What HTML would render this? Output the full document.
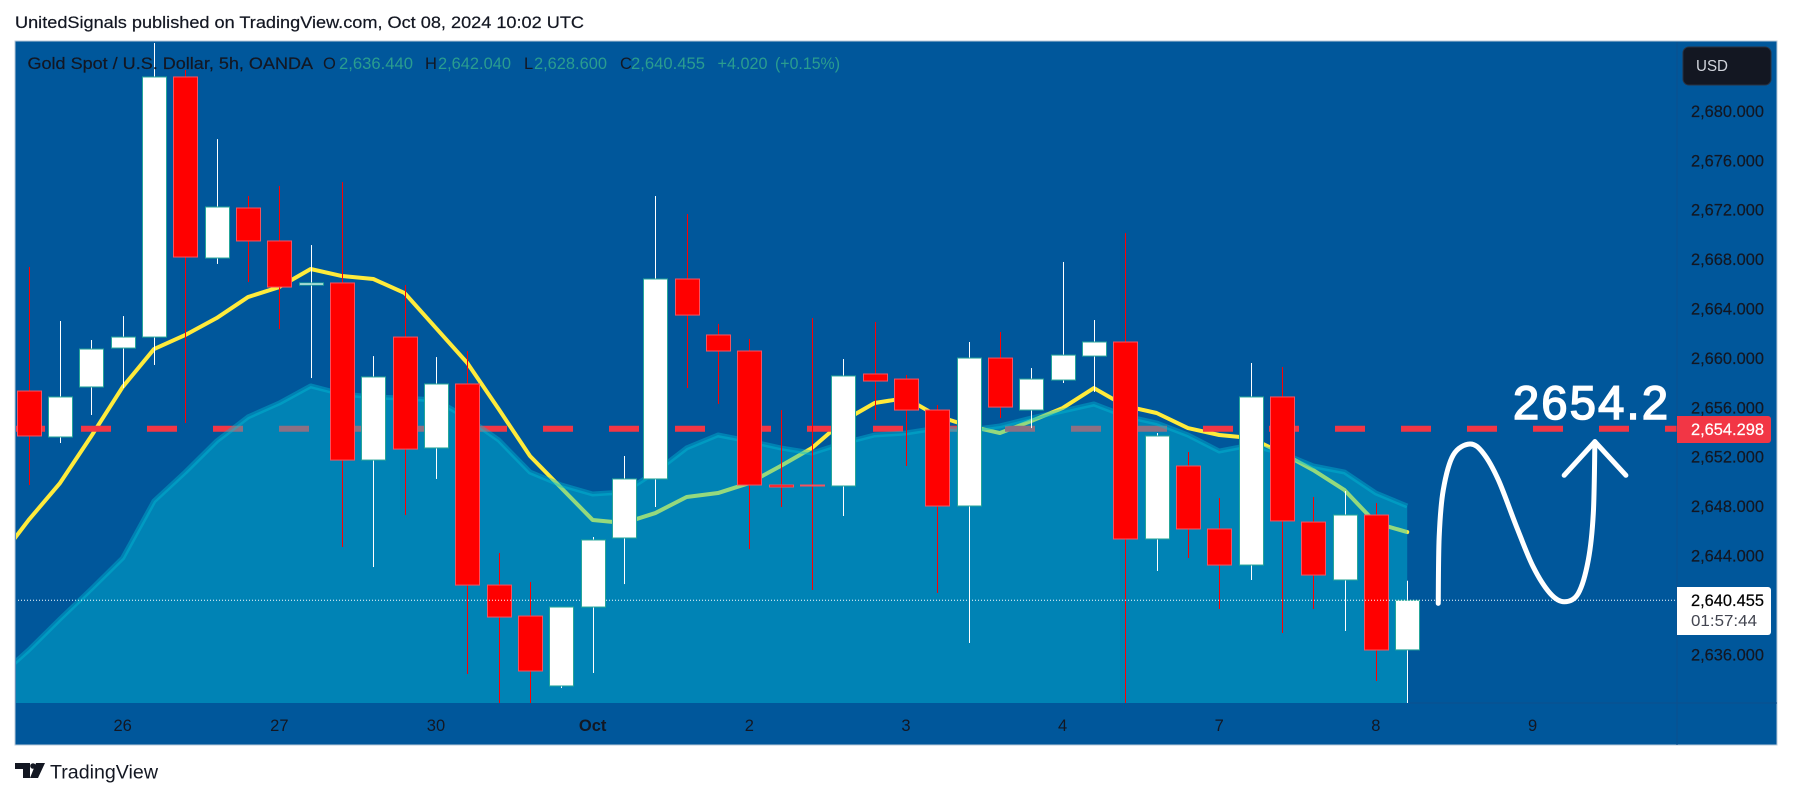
<!DOCTYPE html>
<html lang="en">
<head>
<meta charset="utf-8">
<title>Gold Spot / U.S. Dollar chart</title>
<style>
html,body{margin:0;padding:0;background:#fff;}
body{width:1793px;height:798px;overflow:hidden;}
svg{display:block;font-family:"Liberation Sans",sans-serif;}
</style>
</head>
<body>
<svg id="chart" xmlns="http://www.w3.org/2000/svg" width="1793" height="798" viewBox="0 0 1793 798">
  <defs>
    <clipPath id="plot-clip"><rect x="16" y="42" width="1661" height="661"/></clipPath>
  </defs>
  <rect x="0" y="0" width="1793" height="798" fill="#ffffff"/>
  <text x="15" y="28" font-size="16.5" fill="#131722" stroke="#131722" stroke-width="0.2" textLength="569" lengthAdjust="spacingAndGlyphs">UnitedSignals published on TradingView.com, Oct 08, 2024 10:02 UTC</text>
  <rect x="15" y="41" width="1762" height="704" fill="#00579b" stroke="#b8c8da" stroke-width="1"/>
  <g id="plot" clip-path="url(#plot-clip)"></g>
  <line x1="1677" y1="42" x2="1677" y2="745" stroke="#0d4f8c" stroke-width="1"/>
  <line x1="1410" y1="703" x2="1777" y2="703" stroke="#0d4f8c" stroke-width="1"/>
  <g id="price-axis"></g>
  <g id="time-axis"></g>
  <g font-size="16.5">
    <text x="27.5" y="69" fill="#131722" stroke="#131722" stroke-width="0.2" textLength="285.5" lengthAdjust="spacingAndGlyphs">Gold Spot / U.S. Dollar, 5h, OANDA</text>
    <text x="323" y="69" fill="#131722">O</text>
    <text x="339" y="69" fill="#2a9d8f" textLength="74" lengthAdjust="spacingAndGlyphs">2,636.440</text>
    <text x="425" y="69" fill="#131722">H</text>
    <text x="438" y="69" fill="#2a9d8f" textLength="73" lengthAdjust="spacingAndGlyphs">2,642.040</text>
    <text x="524" y="69" fill="#131722">L</text>
    <text x="534" y="69" fill="#2a9d8f" textLength="73" lengthAdjust="spacingAndGlyphs">2,628.600</text>
    <text x="620" y="69" fill="#131722">C</text>
    <text x="631" y="69" fill="#2a9d8f" textLength="74" lengthAdjust="spacingAndGlyphs">2,640.455</text>
    <text x="717.5" y="69" fill="#2a9d8f" textLength="50" lengthAdjust="spacingAndGlyphs">+4.020</text>
    <text x="775" y="69" fill="#2a9d8f" textLength="65" lengthAdjust="spacingAndGlyphs">(+0.15%)</text>
  </g>
  <g>
    <rect x="1683" y="47" width="88" height="38" rx="6" fill="#131722" stroke="#2a3140" stroke-width="1"/>
    <text x="1696" y="71" font-size="16" fill="#d1d4dc" textLength="32" lengthAdjust="spacingAndGlyphs">USD</text>
  </g>
  <g>
    <path d="M1677 416H1768a3 3 0 0 1 3 3V440a3 3 0 0 1-3 3H1677Z" fill="#f23645"/>
    <text x="1691" y="435" font-size="16.500" fill="#ffffff" stroke="#ffffff" stroke-width="0.2" textLength="73" lengthAdjust="spacingAndGlyphs">2,654.298</text>
  </g>
  <g>
    <path d="M1677 587H1768a3 3 0 0 1 3 3V632a3 3 0 0 1-3 3H1677Z" fill="#ffffff"/>
    <text x="1691" y="606" font-size="16.500" fill="#000000" stroke="#000000" stroke-width="0.2" textLength="73" lengthAdjust="spacingAndGlyphs">2,640.455</text>
    <text x="1691" y="626" font-size="16" fill="#434651" textLength="66" lengthAdjust="spacingAndGlyphs">01:57:44</text>
  </g>
  <g>
    <path d="M15 763H30V778H23V769H15ZM36 763H45L38 778H30Z" fill="#131722"/>
    <circle cx="33" cy="766" r="2.800" fill="#131722"/>
    <text x="50" y="778.500" font-size="19" fill="#131722" textLength="108" lengthAdjust="spacingAndGlyphs">TradingView</text>
  </g>
</svg>
<script>
// Bar 0 in these arrays sits just off the left edge of the plot.
const opens  = [2650,2657.40,2653.68,2657.73,2660.88,2661.77,2682.83,2668.17,2672.22,2669.55,2665.98,2666.15,2651.81,2661.77,2652.79,2657.97,2641.69,2639.18,2633.52,2639.91,2645.50,2650.28,2666.47,2661.94,2660.64,2649.79,2649.79,2649.71,2658.78,2658.37,2655.86,2648.09,2660.07,2655.86,2658.29,2660.23,2661.37,2645.42,2651.33,2646.23,2643.31,2656.92,2646.79,2642.10,2647.36,2636.44];
const highs  = [2652,2667.44,2663.07,2661.53,2663.47,2685.58,2683.39,2677.80,2673.19,2674.00,2669.22,2674.32,2660.23,2665.98,2660.15,2660.64,2644.29,2641.94,2639.91,2645.58,2652.14,2673.19,2671.73,2662.83,2661.61,2655.86,2663.31,2659.99,2662.99,2658.70,2656.27,2661.37,2662.18,2659.26,2667.85,2663.15,2670.19,2654.00,2652.46,2648.74,2659.67,2659.35,2648.82,2649.30,2648.33,2642.04];
const lows   = [2648,2649.79,2653.19,2655.46,2657.64,2659.51,2654.81,2667.69,2666.23,2662.42,2658.45,2644.77,2643.15,2647.36,2650.28,2634.49,2631.00,2631.00,2633.35,2634.57,2641.77,2648.01,2657.64,2656.35,2644.61,2648.01,2641.29,2647.28,2655.05,2651.33,2641.05,2637.00,2655.21,2654.40,2658.05,2657.32,2631.00,2642.83,2643.88,2639.75,2642.10,2637.81,2639.75,2637.97,2633.92,2628.60];
const closes = [2649,2653.76,2656.92,2660.80,2661.77,2682.83,2668.25,2672.30,2669.55,2665.82,2666.15,2651.81,2658.54,2652.70,2657.97,2641.69,2639.10,2634.73,2639.91,2645.34,2650.28,2666.47,2663.55,2660.64,2649.79,2649.63,2649.75,2658.62,2658.21,2655.86,2648.09,2660.07,2656.10,2658.37,2660.31,2661.37,2645.42,2653.76,2646.23,2643.31,2656.92,2646.88,2642.50,2647.36,2636.43,2640.455];
const fastAverage = [2643.64,2646.96,2649.95,2653.76,2657.73,2660.80,2661.94,2663.31,2665.01,2665.82,2667.28,2666.71,2666.47,2665.33,2662.50,2659.67,2655.94,2652.14,2649.55,2646.96,2646.71,2647.52,2648.82,2649.14,2649.95,2651.33,2652.79,2654.97,2656.43,2656.83,2655.38,2654.57,2654.00,2654.97,2656.02,2657.64,2656.19,2655.62,2654.40,2653.84,2653.60,2652.38,2651.00,2649.38,2646.71,2645.98];
const areaSeries = [2634.16,2636.43,2638.94,2641.37,2643.88,2648.49,2650.84,2653.35,2655.30,2656.43,2657.81,2657.16,2656.92,2656.83,2656.67,2655.21,2653.44,2650.84,2649.79,2649.06,2649.22,2650.84,2652.79,2653.84,2653.35,2652.79,2652.38,2653.19,2653.84,2654.00,2654.40,2654.24,2654.57,2655.21,2655.78,2656.35,2655.38,2654.81,2653.84,2652.54,2653.03,2652.38,2651.33,2650.84,2649.14,2648.09];
const priceTicks = [2680,2676,2672,2668,2664,2660,2656,2652,2648,2644,2636];
const timeLabels = ['26','27','30','Oct','2','3','4','7','8','9'];
const timeLabelBars = [4,9,14,19,24,29,34,39,44,49];
const targetPrice = 2654.298;
const lastPrice = 2640.455;
const drawingBars   = [45.99,46.02,46.15,46.47,47.00,47.43,47.91,48.49,49.02,49.56,50.01,50.46,50.78,50.94,50.99];
const drawingPrices = [2640.21,2645.60,2649.38,2652.22,2653.11,2652.36,2650.20,2646.41,2643.17,2641.02,2640.34,2641.02,2643.72,2647.50,2653.30];
const arrowBars   = [50.01,50.99,51.98];
const arrowPrices = [2650.58,2653.30,2650.58];

const NS = 'http://www.w3.org/2000/svg';
const xScale = function (bar) { return 28.7 + 31.33 * (bar - 1); };
const yScale = function (price) { return 600.3 + (2640.455 - price) * 12.35; };
const fmt = function (n) { return n.toFixed(2); };

function make(tag, attrs, parent) {
  const node = document.createElementNS(NS, tag);
  for (const key in attrs) node.setAttribute(key, attrs[key]);
  parent.appendChild(node);
  return node;
}
function linePath(values) {
  return values.map(function (v, i) { return (i ? 'L' : 'M') + fmt(xScale(i)) + ' ' + fmt(yScale(v)); }).join('');
}
function smoothPath(bars, prices) {
  const pts = bars.map(function (b, i) { return [xScale(b), yScale(prices[i])]; });
  let d = 'M' + fmt(pts[0][0]) + ' ' + fmt(pts[0][1]);
  for (let i = 0; i < pts.length - 1; i++) {
    const p0 = pts[Math.max(i - 1, 0)], p1 = pts[i], p2 = pts[i + 1], p3 = pts[Math.min(i + 2, pts.length - 1)];
    d += 'C' + fmt(p1[0] + (p2[0] - p0[0]) / 6) + ' ' + fmt(p1[1] + (p2[1] - p0[1]) / 6) + ' ' +
         fmt(p2[0] - (p3[0] - p1[0]) / 6) + ' ' + fmt(p2[1] - (p3[1] - p1[1]) / 6) + ' ' +
         fmt(p2[0]) + ' ' + fmt(p2[1]);
  }
  return d;
}

const plot = document.getElementById('plot');
const priceAxis = document.getElementById('price-axis');
const timeAxis = document.getElementById('time-axis');

const fastLine = make('path', { d: linePath(fastAverage), fill: 'none', stroke: '#ffeb3b', 'stroke-width': 4, 'stroke-linejoin': 'round', 'stroke-linecap': 'round' }, plot);



const targetLine = make('line', { x1: 15, x2: 1677, y1: 428.7, y2: 428.7, stroke: '#f23645', 'stroke-width': 6, 'stroke-dasharray': '30 36' }, plot);



const lastBar = areaSeries.length - 1;
const areaFill = make('path', {
  d: linePath(areaSeries) + 'L' + fmt(xScale(lastBar)) + ' 703L' + fmt(xScale(0)) + ' 703Z',
  fill: '#00c0d9', 'fill-opacity': 0.42, stroke: 'none'
}, plot);



const areaLine = make('path', { d: linePath(areaSeries), fill: 'none', stroke: '#00bcd4', 'stroke-opacity': 0.42, 'stroke-width': 5, 'stroke-linejoin': 'round', 'stroke-linecap': 'butt' }, plot);



opens.forEach(function (open, i) {
  const close = closes[i];
  const up = close >= open;
  const cx = Math.round(xScale(i));
  const group = make('g', {}, plot);
  
  
  const wick = make('rect', {
    x: cx, y: fmt(yScale(highs[i])), width: 1,
    height: fmt(yScale(lows[i]) - yScale(highs[i])),
    fill: up ? '#ffffff' : '#ff0000'
  }, group);
  
  
  const top = yScale(Math.max(open, close));
  const bottom = yScale(Math.min(open, close));
  const body = make('rect', {
    x: cx - 11.5, y: fmt(top), width: 24, height: fmt(Math.max(bottom - top, 1)),
    fill: up ? '#ffffff' : '#ff0000',
    stroke: up ? '#26a69a' : '#f7525f', 'stroke-width': 1
  }, group);
  
  
});

const lastLine = make('line', { x1: 15, x2: 1677, y1: fmt(yScale(lastPrice)), y2: fmt(yScale(lastPrice)), stroke: '#ffffff', 'stroke-width': 1, 'stroke-dasharray': '1 2' }, plot);



const curve = make('path', { d: smoothPath(drawingBars, drawingPrices), fill: 'none', stroke: '#ffffff', 'stroke-width': 5, 'stroke-linecap': 'round', 'stroke-linejoin': 'round' }, plot);



const arrow = make('path', {
  d: arrowBars.map(function (b, i) { return (i ? 'L' : 'M') + fmt(xScale(b)) + ' ' + fmt(yScale(arrowPrices[i])); }).join(''),
  fill: 'none', stroke: '#ffffff', 'stroke-width': 5, 'stroke-linecap': 'round', 'stroke-linejoin': 'round'
}, plot);



const targetText = make('text', { x: 1513, y: 419, 'font-size': 47, fill: '#ffffff', textLength: 155, lengthAdjust: 'spacing', stroke: '#ffffff', 'stroke-width': 1.6 }, plot);


targetText.textContent = '2654.2';

priceTicks.forEach(function (tick) {
  const t = make('text', { x: 1691, y: fmt(yScale(tick) + 5), 'font-size': 16.5, fill: '#131722', stroke: '#131722', 'stroke-width': 0.2, textLength: 73, lengthAdjust: 'spacingAndGlyphs' }, priceAxis);
  
  
  t.textContent = tick.toLocaleString('en-US') + '.000';
});

timeLabels.forEach(function (label, i) {
  const t = make('text', { x: fmt(xScale(timeLabelBars[i])), y: 731, 'font-size': 16.5, fill: '#131722', 'text-anchor': 'middle', 'font-weight': label === 'Oct' ? 'bold' : 'normal' }, timeAxis);
  
  
  t.textContent = label;
});
</script>
</body>
</html>
